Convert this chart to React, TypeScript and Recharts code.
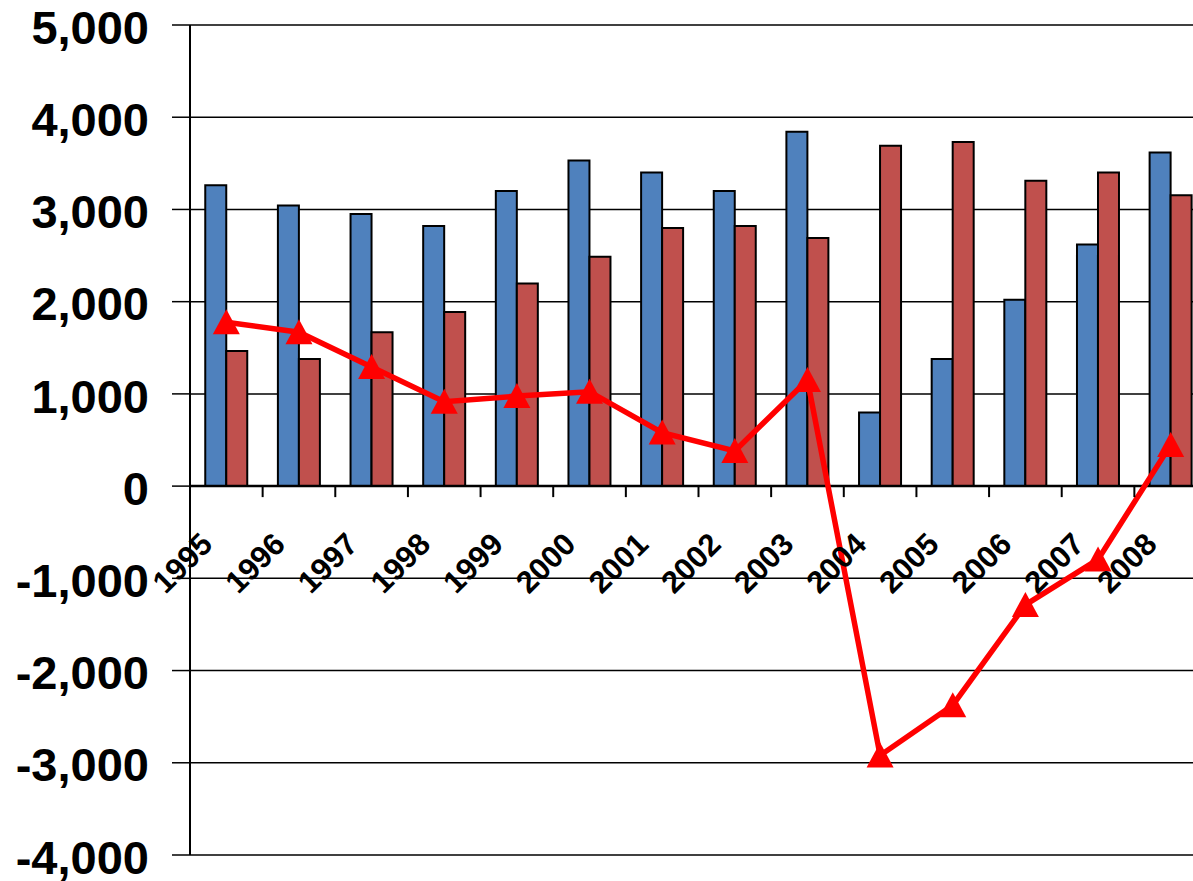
import React from 'react';
import { ComposedChart, Bar, Line, XAxis, YAxis, CartesianGrid, ReferenceLine } from 'recharts';

const years = ['1995', '1996', '1997', '1998', '1999', '2000', '2001', '2002', '2003', '2004', '2005', '2006', '2007', '2008'];
const blueValues = [3263, 3042, 2951, 2821, 3201, 3531, 3400, 3201, 3842, 799, 1379, 2020, 2621, 3618];
const redValues = [1466, 1379, 1668, 1889, 2197, 2487, 2799, 2820, 2690, 3690, 3730, 3310, 3400, 3154];
const lineValues = [1777, 1668, 1292, 915, 976, 1024, 580, 382, 1150, -2920, -2375, -1288, -795, 447];
const yTicks = [-4000, -3000, -2000, -1000, 0, 1000, 2000, 3000, 4000, 5000];

const data = years.map((y, i) => ({ year: y, blue: blueValues[i], red: redValues[i], net: lineValues[i] }));

const Y_MIN = -4000;
const Y_MAX = 5000;
const CHART_W = 1207;
const CHART_H = 881;
const MARGIN = { top: 25, right: 0, bottom: 0, left: 0 };
const Y_AXIS_W = 190;
const X_AXIS_H = 26;
const PLOT_W = CHART_W - MARGIN.left - MARGIN.right - Y_AXIS_W;
const PLOT_H = CHART_H - MARGIN.top - MARGIN.bottom - X_AXIS_H;
const BAND = PLOT_W / years.length;
const ZERO_Y = MARGIN.top + (PLOT_H * Y_MAX) / (Y_MAX - Y_MIN);
const FONT = '"Liberation Sans", Arial, Helvetica, sans-serif';

const XTick = (props: any) => {
  const { x, payload } = props;
  const tx = x - 12;
  const ty = ZERO_Y + 60;
  return (
    <g>
      <line x1={x + BAND / 2} x2={x + BAND / 2} y1={ZERO_Y} y2={ZERO_Y + 11} stroke="#000" strokeWidth={2} />
      <text
        x={tx}
        y={ty}
        transform={`rotate(-45, ${tx}, ${ty})`}
        textAnchor="end"
        fontFamily={FONT}
        fontWeight="bold"
        fontSize={31}
        fill="#000"
      >
        {payload.value}
      </text>
    </g>
  );
};

const YTick = (props: any) => {
  const { x, y, payload } = props;
  return (
    <text x={x} y={y} dy={0.355 * 47 + 2} textAnchor="end" fontFamily={FONT} fontWeight="bold" fontSize={47} fill="#000">
      {Number(payload.value).toLocaleString('en-US')}
    </text>
  );
};

const TriangleDot = (props: any) => {
  const { cx, cy } = props;
  if (cx == null || cy == null) return null;
  const pts = `${cx},${cy - 13} ${cx - 13.5},${cy + 12} ${cx + 13.5},${cy + 12}`;
  return <polygon points={pts} fill="#FF0000" />;
};

export default function App() {
  return (
    <div style={{ position: 'fixed', left: 0, top: 0, width: 1193, height: 881, overflow: 'hidden', background: '#fff' }}>
      <ComposedChart width={CHART_W} height={CHART_H} data={data} margin={MARGIN} barCategoryGap="21%" barGap={0}>
        <CartesianGrid horizontal vertical={false} stroke="#000" strokeWidth={1.5} strokeOpacity={1} />
        <XAxis
          dataKey="year"
          height={X_AXIS_H}
          axisLine={false}
          tickLine={false}
          interval={0}
          tick={<XTick />}
        />
        <YAxis
          width={Y_AXIS_W}
          domain={[Y_MIN, Y_MAX]}
          ticks={yTicks}
          allowDataOverflow
          axisLine={{ stroke: '#000', strokeWidth: 2 }}
          tickLine={{ stroke: '#000', strokeWidth: 1.5 }}
          tickSize={18}
          tickMargin={23}
          tick={<YTick />}
        />
        <Bar dataKey="blue" fill="#4F81BD" stroke="#000" strokeWidth={2} isAnimationActive={false} />
        <Bar dataKey="red" fill="#C0504D" stroke="#000" strokeWidth={2} isAnimationActive={false} />
        <ReferenceLine y={0} stroke="#000" strokeWidth={2.5} />
        <Line
          dataKey="net"
          stroke="#FF0000"
          strokeWidth={5.5}
          dot={<TriangleDot />}
          activeDot={false}
          isAnimationActive={false}
        />
      </ComposedChart>
    </div>
  );
}
